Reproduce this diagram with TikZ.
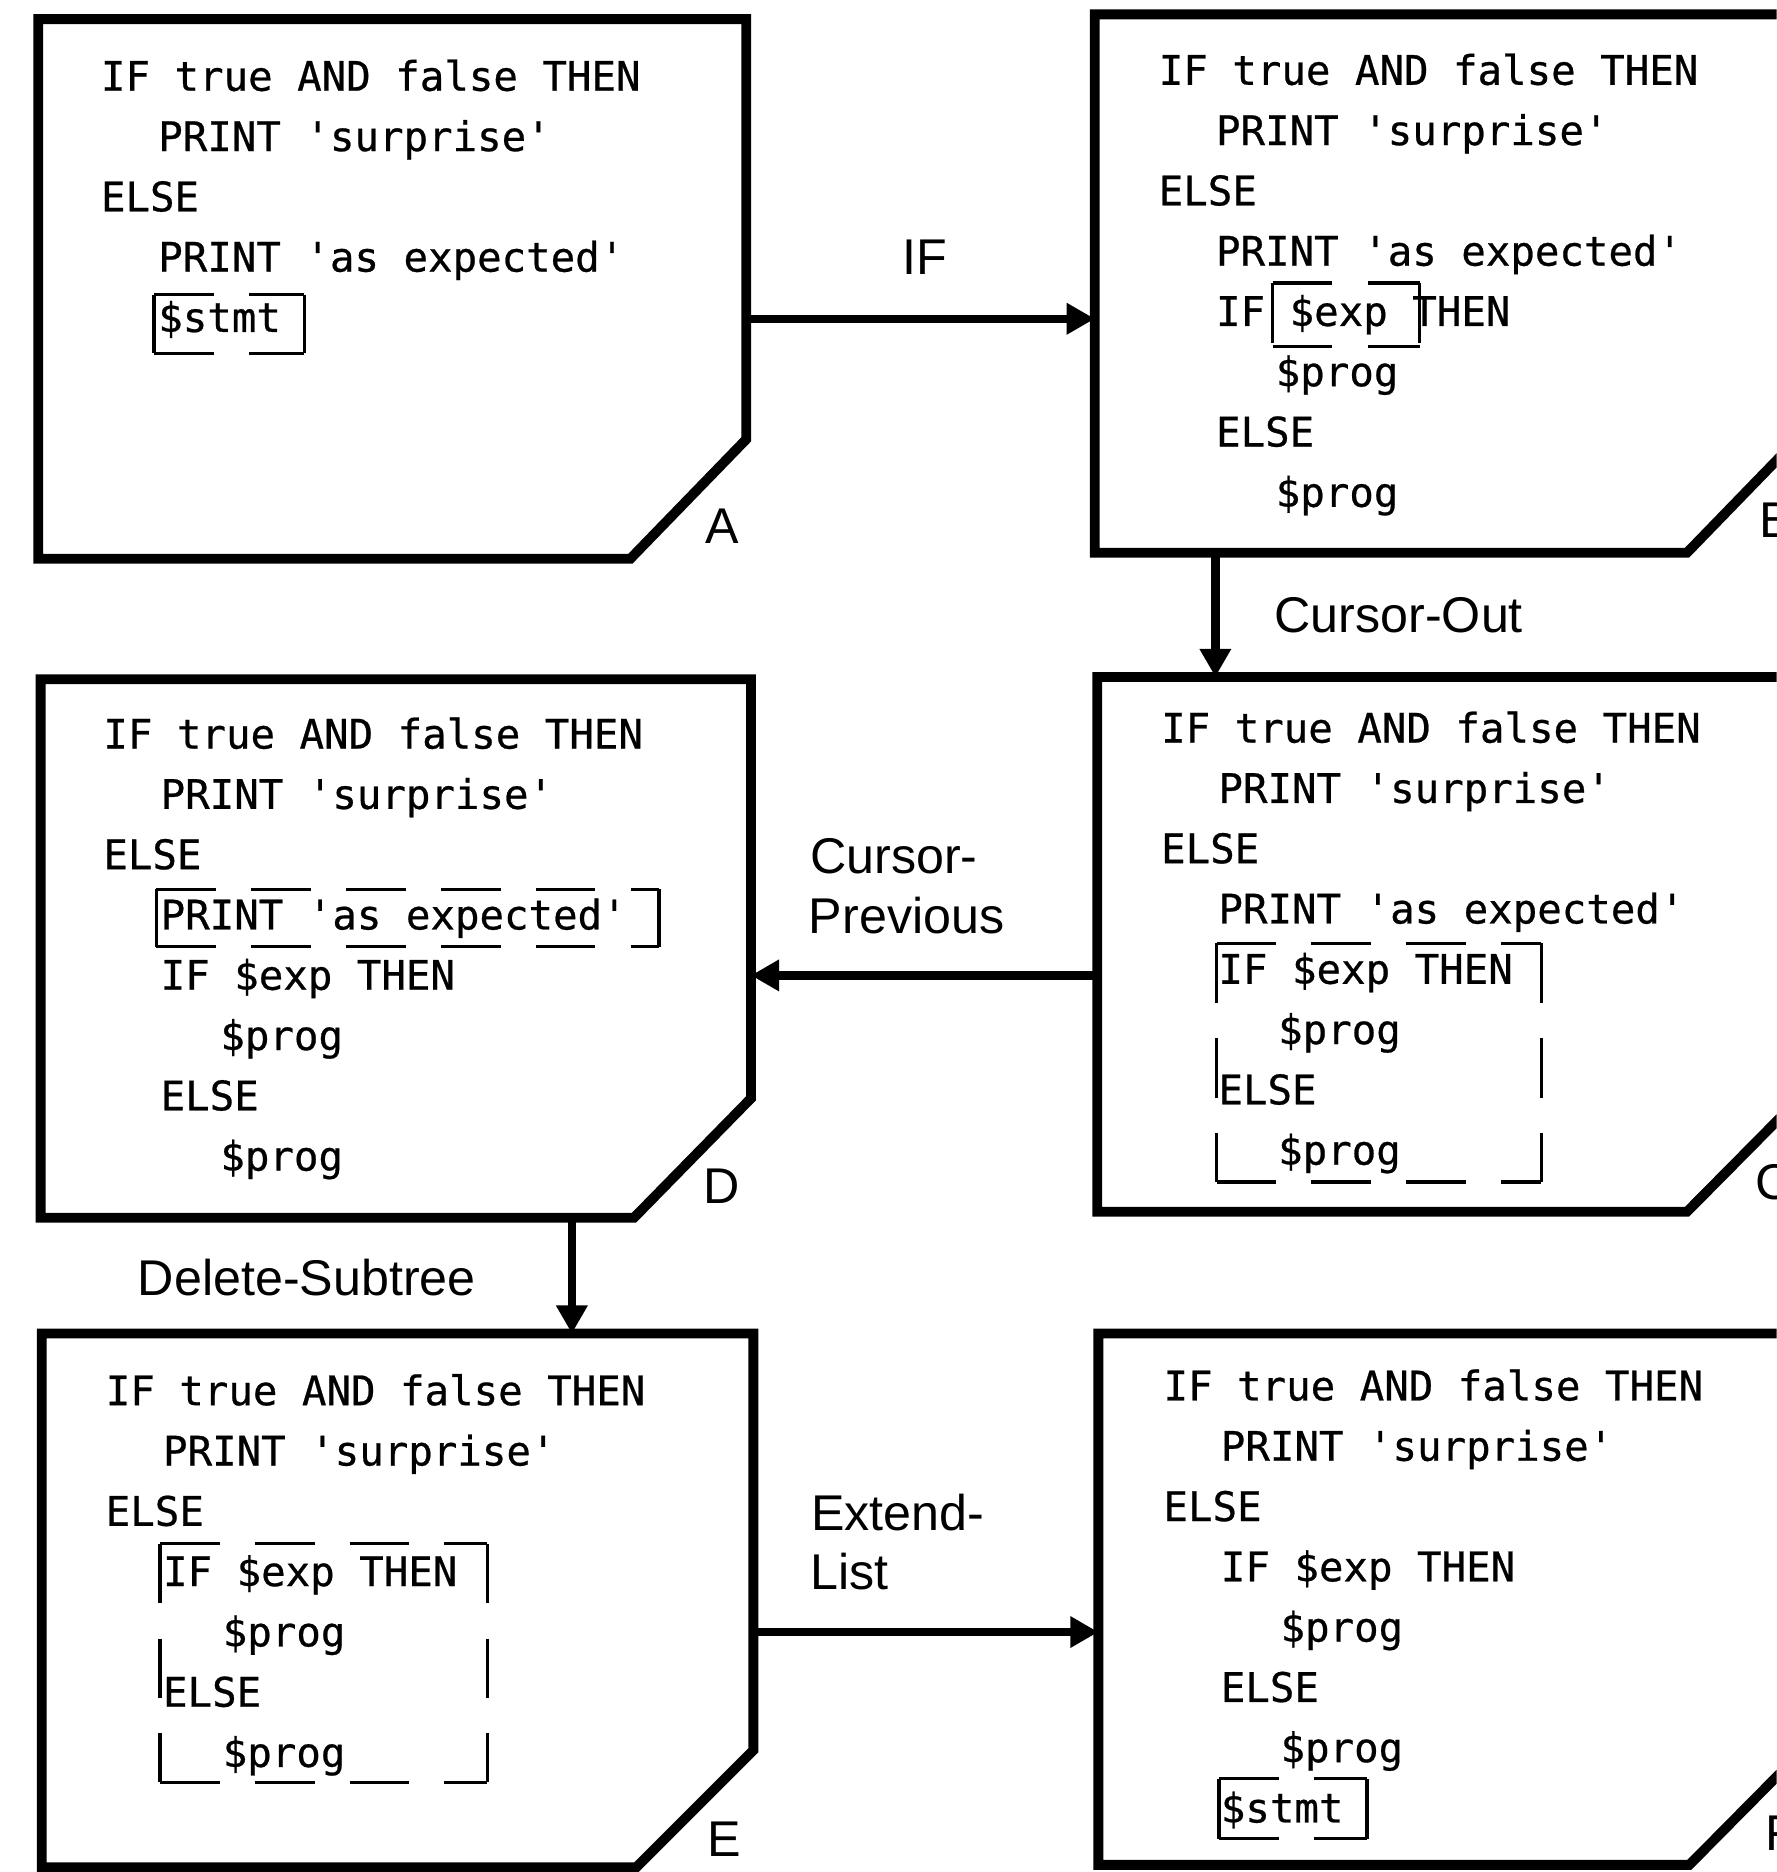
\documentclass[tikz,border=0pt]{standalone}
\usepackage{fontspec}
\setmainfont{Liberation Sans}
\setsansfont{Liberation Sans}
\setmonofont{DejaVu Sans Mono}[FakeBold=0.6]
\usetikzlibrary{arrows.meta}
\tikzset{
  panel/.style={line width=2.8pt, line join=miter},
  code/.style={font=\ttfamily\fontsize{11.6}{14}\selectfont, inner sep=0pt, anchor=base west},
  lbl/.style={font=\sffamily\fontsize{14.3}{17}\selectfont, inner sep=0pt, anchor=base west},
  selbox/.style={line width=0.9pt, dash pattern=on 17pt off 10pt},
  flow/.style={line width=2.4pt, -{Triangle[length=8pt,width=8.5pt]}},
}
\newcommand\selrect[4]{%
  \draw[selbox] (#1,#2) -- (#3,#2);
  \draw[selbox] (#1,#4) -- (#3,#4);
  \draw[selbox] (#1,#2) -- (#1,#4);
  \draw[selbox] (#3,#2) -- (#3,#4);
}
\begin{document}
\begin{tikzpicture}[x=0.011942cm,y=-0.011942cm]
\path[use as bounding box] (0,0) rectangle (1488,1568);
\clip (0,0) rectangle (1488,1568);

% ---------- panels ----------
\draw[panel] (32,16) -- (625,16) -- (625,368) -- (528,468) -- (32,468) -- cycle;
\draw[panel] (917,12) -- (1510,12) -- (1510,363) -- (1413,463) -- (917,463) -- cycle;
\draw[panel] (919,567) -- (1512,567) -- (1512,915) -- (1413,1015) -- (919,1015) -- cycle;
\draw[panel] (34,569) -- (629,569) -- (629,920) -- (531,1020) -- (34,1020) -- cycle;
\draw[panel] (35,1117) -- (631,1117) -- (631,1466) -- (533,1564) -- (35,1564) -- cycle;
\draw[panel] (920,1117) -- (1514,1117) -- (1514,1462) -- (1415,1562) -- (920,1562) -- cycle;

% panel letters
\node[lbl] (labA) at (590,455) {A};
\node[lbl] (labB) at (1473,450) {B};
\node[lbl] (labC) at (1470,1005) {C};
\node[lbl] (labD) at (589,1008) {D};
\node[lbl] (labE) at (592,1555) {E};
\node[lbl] (labF) at (1478,1550) {F};

% ---------- panel A ----------
\node[code] (a1) at (84,76) {IF true AND false THEN};
\node[code] (a2) at (132,126.5) {PRINT 'surprise'};
\node[code] (a3) at (84,177) {ELSE};
\node[code] (a4) at (132,227.5) {PRINT 'as expected'};
\node[code] (a5) at (132,278) {\$stmt};
\selrect{129}{247}{255}{296}

% ---------- panel B ----------
\node[code] (b1) at (970,71) {IF true AND false THEN};
\node[code] (b2) at (1018,121.5) {PRINT 'surprise'};
\node[code] (b3) at (970,172) {ELSE};
\node[code] (b4) at (1018,222.5) {PRINT 'as expected'};
\node[code] (b5) at (1018,273) {IF \$exp THEN};
\node[code] (b6) at (1068,323.5) {\$prog};
\node[code] (b7) at (1018,374) {ELSE};
\node[code] (b8) at (1068,424.5) {\$prog};
\selrect{1066}{237}{1189}{290}

% ---------- panel C ----------
\node[code] (c1) at (972,622) {IF true AND false THEN};
\node[code] (c2) at (1020,672.5) {PRINT 'surprise'};
\node[code] (c3) at (972,723) {ELSE};
\node[code] (c4) at (1020,773.5) {PRINT 'as expected'};
\node[code] (c5) at (1020,824) {IF \$exp THEN};
\node[code] (c6) at (1070,874.5) {\$prog};
\node[code] (c7) at (1020,925) {ELSE};
\node[code] (c8) at (1070,975.5) {\$prog};
\selrect{1019}{790}{1291}{990}

% ---------- panel D ----------
\node[code] (d1) at (86,627) {IF true AND false THEN};
\node[code] (d2) at (134,677.5) {PRINT 'surprise'};
\node[code] (d3) at (86,728) {ELSE};
\node[code] (d4) at (134,778.5) {PRINT 'as expected'};
\node[code] (d5) at (134,829) {IF \$exp THEN};
\node[code] (d6) at (184,879.5) {\$prog};
\node[code] (d7) at (134,930) {ELSE};
\node[code] (d8) at (184,980.5) {\$prog};
\selrect{131}{745}{552}{793}

% ---------- panel E ----------
\node[code] (e1) at (88,1177) {IF true AND false THEN};
\node[code] (e2) at (136,1227.5) {PRINT 'surprise'};
\node[code] (e3) at (88,1278) {ELSE};
\node[code] (e4) at (136,1328.5) {IF \$exp THEN};
\node[code] (e5) at (186,1379) {\$prog};
\node[code] (e6) at (136,1429.5) {ELSE};
\node[code] (e7) at (186,1480) {\$prog};
\selrect{134}{1293}{408}{1493}

% ---------- panel F ----------
\node[code] (f1) at (974,1173) {IF true AND false THEN};
\node[code] (f2) at (1022,1223.5) {PRINT 'surprise'};
\node[code] (f3) at (974,1274) {ELSE};
\node[code] (f4) at (1022,1324.5) {IF \$exp THEN};
\node[code] (f5) at (1072,1375) {\$prog};
\node[code] (f6) at (1022,1425.5) {ELSE};
\node[code] (f7) at (1072,1476) {\$prog};
\node[code] (f8) at (1022,1526.5) {\$stmt};
\selrect{1021}{1490}{1145}{1540}

% ---------- connectors ----------
\coordinate (Aeast) at (625,267);
\coordinate (Bwest) at (917,267);
\coordinate (Bsouth) at (1018,463);
\coordinate (Cnorth) at (1018,567);
\coordinate (Cwest) at (919,817);
\coordinate (Deast) at (629,817);
\coordinate (Dsouth) at (479,1020);
\coordinate (Enorth) at (479,1117);
\coordinate (Eeast) at (631,1367);
\coordinate (Fwest) at (920,1367);

\draw[flow] (Aeast) -- (Bwest);
\draw[flow] (Bsouth) -- (Cnorth);
\draw[flow] (Cwest) -- (Deast);
\draw[flow] (Dsouth) -- (Enorth);
\draw[flow] (Eeast) -- (Fwest);

\node[lbl, anchor=base] (tIF) at (775,230) {IF};
\node[lbl] (tOut) at (1067,530) {Cursor-Out};
\node[lbl] (tPrev1) at (678,732) {Cursor-};
\node[lbl] (tPrev2) at (677,782) {Previous};
\node[lbl] (tDel) at (115,1085) {Delete-Subtree};
\node[lbl] (tExt1) at (679,1282) {Extend-};
\node[lbl] (tExt2) at (678,1331) {List};
\end{tikzpicture}
\end{document}
